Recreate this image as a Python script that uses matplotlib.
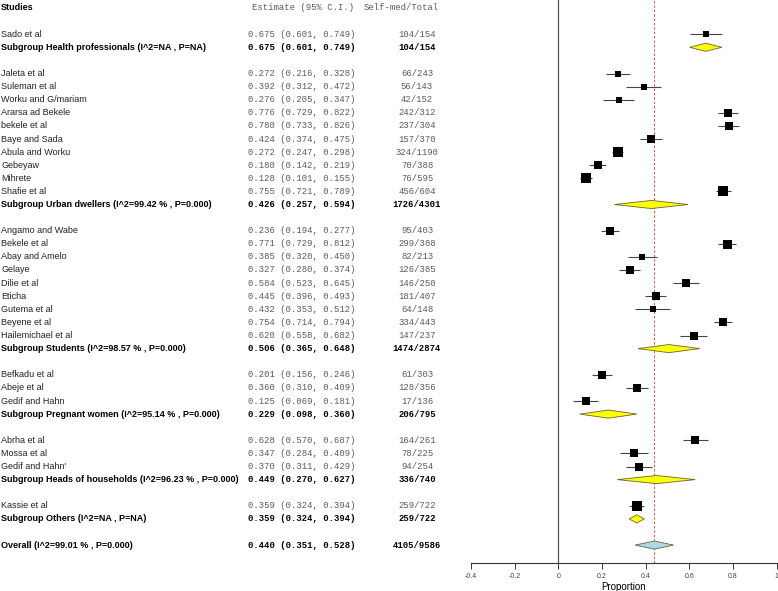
import matplotlib
matplotlib.use("Agg")
import matplotlib.pyplot as plt
import matplotlib.transforms as mtransforms
from matplotlib.patches import Polygon

# ---------------- data ----------------
groups = [
    ("Health professionals", "I^2=NA , P=NA",
     ["Sado et al"],
     [0.675], [0.601], [0.749], ["104/154"], [6.7],
     (0.675, 0.601, 0.749, "104/154")),
    ("Urban dwellers", "I^2=99.42 % , P=0.000",
     ["Jaleta et al", "Suleman et al", "Worku and G/mariam", "Ararsa ad Bekele",
      "bekele et al", "Baye and Sada", "Abula and Worku", "Gebeyaw", "Mihrete",
      "Shafie et al"],
     [0.272, 0.392, 0.276, 0.776, 0.780, 0.424, 0.272, 0.180, 0.128, 0.755],
     [0.216, 0.312, 0.205, 0.729, 0.733, 0.374, 0.247, 0.142, 0.101, 0.721],
     [0.328, 0.472, 0.347, 0.822, 0.826, 0.475, 0.298, 0.219, 0.155, 0.789],
     ["66/243", "56/143", "42/152", "242/312", "237/304", "157/370", "324/1190",
      "70/388", "76/595", "456/604"],
     [6.3, 6.0, 5.7, 8.0, 8.0, 7.7, 10.7, 8.7, 10.7, 9.3],
     (0.426, 0.257, 0.594, "1726/4301")),
    ("Students", "I^2=98.57 % , P=0.000",
     ["Angamo and Wabe", "Bekele et al", "Abay and Amelo", "Gelaye", "Dilie et al",
      "Eticha", "Gutema et al", "Beyene et al", "Hailemichael et al"],
     [0.236, 0.771, 0.385, 0.327, 0.584, 0.445, 0.432, 0.754, 0.620],
     [0.194, 0.729, 0.320, 0.280, 0.523, 0.396, 0.353, 0.714, 0.558],
     [0.277, 0.812, 0.450, 0.374, 0.645, 0.493, 0.512, 0.794, 0.682],
     ["95/403", "299/388", "82/213", "126/385", "146/250", "181/407", "64/148",
      "334/443", "147/237"],
     [8.7, 9.0, 6.7, 8.0, 7.3, 8.0, 6.0, 8.7, 7.3],
     (0.506, 0.365, 0.648, "1474/2874")),
    ("Pregnant women", "I^2=95.14 % , P=0.000",
     ["Befkadu et al", "Abeje et al", "Gedif and Hahn"],
     [0.201, 0.360, 0.125], [0.156, 0.310, 0.069], [0.246, 0.409, 0.181],
     ["61/303", "128/356", "17/136"], [8.3, 8.0, 7.7],
     (0.229, 0.098, 0.360, "206/795")),
    ("Heads of households", "I^2=96.23 % , P=0.000",
     ["Abrha et al", "Mossa et al", "Gedif and Hahn'"],
     [0.628, 0.347, 0.370], [0.570, 0.284, 0.311], [0.687, 0.409, 0.429],
     ["164/261", "78/225", "94/254"], [7.7, 7.7, 7.3],
     (0.449, 0.270, 0.627, "336/740")),
    ("Others", "I^2=NA , P=NA",
     ["Kassie et al"],
     [0.359], [0.324], [0.394], ["259/722"], [10.0],
     (0.359, 0.324, 0.394, "259/722")),
]
overall_label = "Overall (I^2=99.01 % , P=0.000)"
overall = (0.440, 0.351, 0.528, "4105/9586")
xticks = [-0.4, -0.2, 0, 0.2, 0.4, 0.6, 0.8, 1]
xtick_labels = ["-0.4", "-0.2", "0", "0.2", "0.4", "0.6", "0.8", "1"]

# ---------------- figure ----------------
W, H = 778, 591
fig = plt.figure(figsize=(W / 100, H / 100), dpi=100)
ax_left, ax_right = 471.0, 776.7
ax_top, ax_bot = 0.0, 563.0
ax = fig.add_axes([ax_left / W, (H - ax_bot) / H, (ax_right - ax_left) / W, (ax_bot - ax_top) / H])
ax.set_xlim(-0.4, 1.0)
row_h = 13.1
y0 = 8.0
ax.set_ylim((ax_bot - y0) / row_h, (ax_top - y0) / row_h)

for s in ["top", "right", "left"]:
    ax.spines[s].set_visible(False)
ax.spines["bottom"].set_color("#333333")
ax.spines["bottom"].set_linewidth(0.8)
ax.set_yticks([])
ax.set_xticks(xticks)
ax.set_xticklabels(xtick_labels, fontsize=5, color="#444444", family="Liberation Sans")
ax.tick_params(axis="x", length=4, width=0.7, color="#333333", pad=3.5)
ax.set_xlabel("Proportion", fontsize=7, family="Liberation Sans", labelpad=1)

trans = mtransforms.blended_transform_factory(fig.transFigure, ax.transData)

def px(x):
    return x / W

sans = "Liberation Sans"
mono = "Liberation Mono"
lab_fs = 6.45
mono_fs = 6.4
gray = "#5a5a5a"

def row_text(row, label, est, lo, hi, counts, bold):
    fw = "bold" if bold else "normal"
    col = "black" if bold else gray
    ax.text(px(1), row, label, transform=trans, fontsize=lab_fs, family=sans,
            fontweight=fw, va="center", ha="left", color="black" if bold else "#222222")
    ax.text(px(248), row, "%.3f (%.3f, %.3f)" % (est, lo, hi), transform=trans,
            fontsize=mono_fs, family=mono, fontweight=fw, va="center", ha="left", color=col)
    ax.text(px(417), row, counts, transform=trans, fontsize=mono_fs, family=mono,
            fontweight=fw, va="center", ha="center", color=col)

def diamond(row, est, lo, hi, color):
    hh = 0.31
    poly = Polygon([[lo, row], [est, row - hh], [hi, row], [est, row + hh]],
                   closed=True, facecolor=color, edgecolor="#666633", linewidth=0.6,
                   zorder=4, clip_on=False)
    ax.add_patch(poly)

# header
ax.text(px(1), 0, "Studies", transform=trans, fontsize=lab_fs, family=sans,
        fontweight="bold", va="center", ha="left")
ax.text(px(252), 0, "Estimate (95% C.I.)", transform=trans, fontsize=mono_fs,
        family=mono, va="center", ha="left", color=gray)
ax.text(px(364), 0, "Self-med/Total", transform=trans, fontsize=mono_fs,
        family=mono, va="center", ha="left", color=gray)

row = 2
for gname, stats, studies, est, lo, hi, counts, wts, sub in groups:
    for i in range(len(studies)):
        row_text(row, studies[i], est[i], lo[i], hi[i], counts[i], False)
        ax.plot([lo[i], hi[i]], [row, row], color="#444444", lw=0.8, zorder=3,
                solid_capstyle="butt")
        ax.plot([est[i]], [row], marker="s", color="black", markersize=wts[i] * 0.72,
                markeredgewidth=0, zorder=5, linestyle="none")
        row += 1
    row_text(row, "Subgroup %s (%s)" % (gname, stats), sub[0], sub[1], sub[2], sub[3], True)
    diamond(row, sub[0], sub[1], sub[2], "#FFFF00")
    row += 2

row_text(row, overall_label, overall[0], overall[1], overall[2], overall[3], True)
diamond(row, overall[0], overall[1], overall[2], "#ADD8E6")

ylo, yhi = ax.get_ylim()
ax.plot([0, 0], [ylo, yhi], color="#555555", lw=0.9, zorder=1)
ax.plot([overall[0], overall[0]], [ylo, yhi], color="#E05050", lw=0.7,
        linestyle=(0, (2.5, 2)), zorder=2)

fig.savefig("out.png", dpi=100)
